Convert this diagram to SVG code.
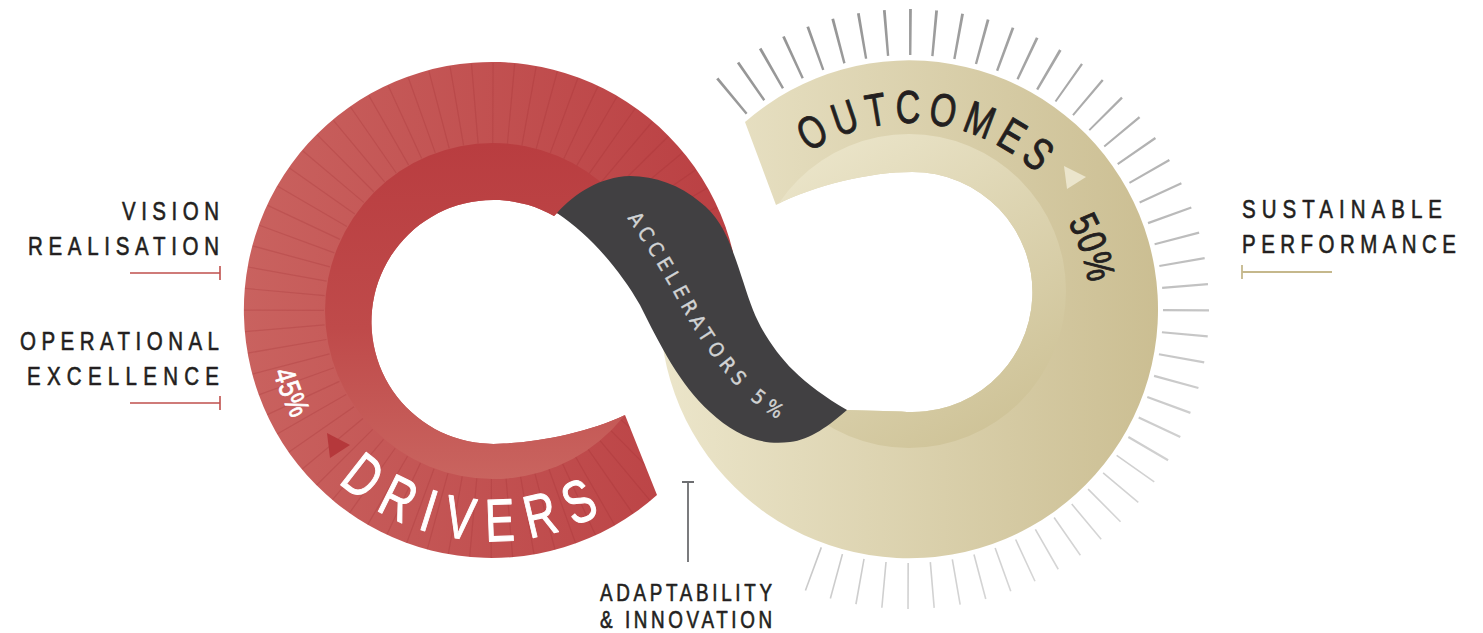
<svg xmlns="http://www.w3.org/2000/svg" width="1483" height="633" viewBox="0 0 1483 633">
  <defs>
    <style>
      .sans { font-family: 'Liberation Sans', Arial, sans-serif; stroke-linejoin: round; }
      .cond { font-family: 'DejaVu Sans Condensed', 'Liberation Sans', sans-serif; }
      .lbl { font-size: 25px; fill: #231f20; stroke: #231f20; stroke-width: 0.6px; }
      .lbl-sm { font-size: 23px; fill: #231f20; stroke: #231f20; stroke-width: 0.6px; }
      .big-white { font-size: 60px; fill: #ffffff; stroke: #ffffff; stroke-width: 1.1px; text-anchor: middle; }
      .big-dark { font-size: 46px; fill: #231f20; stroke: #231f20; stroke-width: 0.9px; text-anchor: middle; }
      .pct-dark { font-size: 40px; fill: #231f20; stroke: #231f20; stroke-width: 1px; text-anchor: middle; }
      .pct-white { font-size: 30px; fill: #ffffff; stroke: #ffffff; stroke-width: 0.8px; text-anchor: middle; }
      .tick-red { stroke: #c0504d; stroke-width: 1.6; fill: none; }
      .tick-gold { stroke: #c5b88c; stroke-width: 1.8; fill: none; }
      .tick-grey { stroke: #6d6e71; stroke-width: 1.8; fill: none; }
      .rays { fill: none; stroke: url(#rayGrad); stroke-width: 46; }
    </style>

    <linearGradient id="redOuter" gradientUnits="userSpaceOnUse" x1="244" y1="0" x2="740" y2="0">
      <stop offset="0" stop-color="#c9625f"/>
      <stop offset="1" stop-color="#ba3f42"/>
    </linearGradient>
    <linearGradient id="redInner" gradientUnits="userSpaceOnUse" x1="0" y1="143" x2="0" y2="479">
      <stop offset="0" stop-color="#b93d40"/>
      <stop offset="0.55" stop-color="#bf4a4a"/>
      <stop offset="1" stop-color="#c9645f"/>
    </linearGradient>
    <linearGradient id="beigeOuter" gradientUnits="userSpaceOnUse" x1="650" y1="0" x2="1160" y2="0">
      <stop offset="0" stop-color="#ece6cb"/>
      <stop offset="1" stop-color="#cbbe92"/>
    </linearGradient>
    <linearGradient id="beigeInner" gradientUnits="userSpaceOnUse" x1="800" y1="150" x2="1000" y2="450">
      <stop offset="0" stop-color="#ebe5ca"/>
      <stop offset="1" stop-color="#cdc195"/>
    </linearGradient>
    <linearGradient id="rayGrad" gradientUnits="userSpaceOnUse" x1="700" y1="60" x2="1000" y2="620">
      <stop offset="0" stop-color="#939393"/>
      <stop offset="1" stop-color="#d8d8d8"/>
    </linearGradient>

    <clipPath id="redClip">
      <path d="M657,495 A248,248 0 1 1 733,252 L700,300 L640,250 L557,213 L554,216 A122,122 0 1 0 503.6,443.5 C540,442 590,432 625,415 Z"/>
    </clipPath>
    <clipPath id="beigeClip">
      <path d="M745,122 A249,249 0 1 1 660.6,326.4 L648,316 L720,322 L790,395 L847,410 L901.5,411.5 A120,120 0 1 0 912,172 C870,172 815,185 776,205 Z"/>
    </clipPath>

    <!-- centre line of the crossing band, used for its lettering -->
    <path id="pAcc" d="M622,200 C640,222 660,255 680,290 C700,328 720,358 745,385 C758,398 775,410 800,425"/>
  </defs>

  <rect width="1483" height="633" fill="#ffffff"/>

  <!-- radial gauge marks around the right loop -->
  <g id="gauge-rays">
    <path class="rays" stroke-dasharray="2.6 21.573" d="M730.95,96.81 A277,277 0 0 1 1051.66,71.56"/>
    <path class="rays" stroke-dasharray="2.2 21.973" d="M1067.88,82.09 A277,277 0 0 1 1146.44,451.66"/>
    <path class="rays" stroke-dasharray="1.6 22.573" d="M1135.91,467.88 A277,277 0 0 1 809.73,567.6"/>
  </g>

  <!-- left loop: drivers -->
  <g id="drivers">
    <path d="M657,495 A248,248 0 1 1 733,252 L700,300 L640,250 L557,213 L554,216 A122,122 0 1 0 503.6,443.5 C540,442 590,432 625,415 Z" fill="url(#redOuter)"/>
    <circle cx="492" cy="311" r="208" fill="none" stroke="#9c2a2e" stroke-opacity="0.22" stroke-width="80" stroke-dasharray="1.2 16.95" clip-path="url(#redClip)"/>
    <circle cx="493" cy="311" r="168" fill="url(#redInner)" clip-path="url(#redClip)"/>
    <polygon points="327,433 350,445 330,458" fill="#b5383b"/>
    <g class="sans big-white">
      <text transform="translate(350.39,492.24) rotate(38) scale(0.74,1)">D</text>
      <text transform="translate(389.37,516.83) rotate(26.5) scale(0.74,1)">R</text>
      <text transform="translate(422.95,530.4) rotate(17.47) scale(0.74,1)">I</text>
      <text transform="translate(457.02,538.33) rotate(8.75) scale(0.74,1)">V</text>
      <text transform="translate(500.56,540.84) rotate(-2.13) scale(0.74,1)">E</text>
      <text transform="translate(544.99,534.81) rotate(-13.32) scale(0.74,1)">R</text>
      <text transform="translate(587.4,520.28) rotate(-24.51) scale(0.74,1)">S</text>
    </g>
    <g class="sans pct-white">
      <text transform="translate(275.21,378.31) rotate(72.75) scale(0.8,1)">4</text>
      <text transform="translate(280.03,392.24) rotate(69.03) scale(0.8,1)">5</text>
      <text transform="translate(287.45,409.45) rotate(64.29) scale(0.8,1)">%</text>
    </g>
  </g>

  <!-- right loop: outcomes -->
  <g id="outcomes">
    <path d="M745,122 A249,249 0 1 1 660.6,326.4 L648,316 L720,322 L790,395 L847,410 L901.5,411.5 A120,120 0 1 0 912,172 C870,172 815,185 776,205 Z" fill="url(#beigeOuter)"/>
    <circle cx="909" cy="291" r="157" fill="url(#beigeInner)" clip-path="url(#beigeClip)"/>
    <polygon points="1064,166 1086,177 1067,189" fill="#ebe5cc"/>
    <g class="sans big-dark">
      <text transform="translate(819.68,145.86) rotate(-28.7) scale(0.74,1)">O</text>
      <text transform="translate(849.7,132.71) rotate(-18.59) scale(0.74,1)">U</text>
      <text transform="translate(878.46,125.53) rotate(-9.45) scale(0.74,1)">T</text>
      <text transform="translate(907.99,123) rotate(-0.31) scale(0.74,1)">C</text>
      <text transform="translate(940.66,125.72) rotate(9.8) scale(0.74,1)">O</text>
      <text transform="translate(974.32,134.85) rotate(20.56) scale(0.74,1)">M</text>
      <text transform="translate(1003.9,149.02) rotate(30.67) scale(0.74,1)">E</text>
      <text transform="translate(1028.1,166.13) rotate(39.81) scale(0.74,1)">S</text>
    </g>
    <g class="sans pct-dark">
      <text transform="translate(1071.77,229.83) rotate(64.06) scale(0.78,1)">5</text>
      <text transform="translate(1078.92,246.65) rotate(69.85) scale(0.78,1)">0</text>
      <text transform="translate(1085.57,269.18) rotate(77.29) scale(0.78,1)">%</text>
    </g>
  </g>

  <!-- crossing band: accelerators -->
  <g id="accelerators">
    <path d="M557,213 C590,235 620,270 640,305 C660,345 680,385 710,412 C735,435 760,446 790,442 C810,440 830,425 847,410 C825,397 808,385 793,370 C778,355 762,333 753,310 C746,292 740,270 733,252 C726,232 716,214 700,202 C680,185 655,176 630,176 C600,177 575,193 557,213 Z" fill="#414042"/>
    <text class="cond" font-size="20" fill="#d1d3d4" stroke="#d1d3d4" stroke-width="0.4" letter-spacing="5.4" dominant-baseline="central"><textPath href="#pAcc" startOffset="18">ACCELERATORS 5%</textPath></text>
  </g>

  <!-- leader marks -->
  <g id="connectors">
    <path class="tick-red" d="M130,273 H220 M220,266 V280"/>
    <path class="tick-red" d="M130,403 H220 M220,396 V410"/>
    <path class="tick-gold" d="M1242,272 H1332 M1242,265 V279"/>
    <path class="tick-grey" d="M688,482 V562 M682,482 H694"/>
  </g>

  <g id="label-vision" class="sans">
    <text class="lbl" transform="translate(122,220) scale(0.82,1)" textLength="118.3" lengthAdjust="spacing">VISION</text>
    <text class="lbl" transform="translate(28,255) scale(0.82,1)" textLength="232.9" lengthAdjust="spacing">REALISATION</text>
  </g>
  <g id="label-operational" class="sans">
    <text class="lbl" transform="translate(20,350) scale(0.82,1)" textLength="242.7" lengthAdjust="spacing">OPERATIONAL</text>
    <text class="lbl" transform="translate(27,385) scale(0.82,1)" textLength="234.1" lengthAdjust="spacing">EXCELLENCE</text>
  </g>
  <g id="label-sustainable" class="sans">
    <text class="lbl" transform="translate(1242,218) scale(0.82,1)" textLength="243.9" lengthAdjust="spacing">SUSTAINABLE</text>
    <text class="lbl" transform="translate(1242,253) scale(0.82,1)" textLength="261" lengthAdjust="spacing">PERFORMANCE</text>
  </g>
  <g id="label-adaptability" class="sans">
    <text class="lbl-sm" transform="translate(600,601) scale(0.82,1)" textLength="209.8" lengthAdjust="spacing">ADAPTABILITY</text>
    <text class="lbl-sm" transform="translate(600,628) scale(0.82,1)" textLength="209.8" lengthAdjust="spacing">&amp; INNOVATION</text>
  </g>
</svg>
